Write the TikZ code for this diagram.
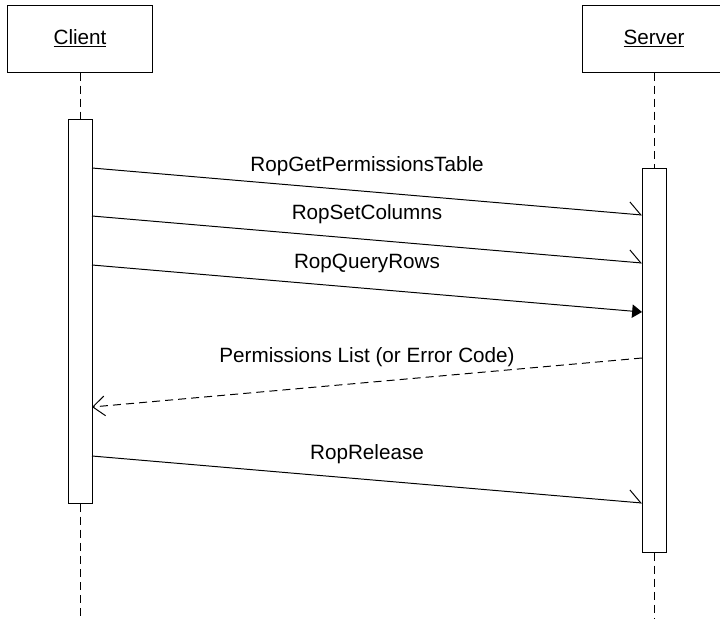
\documentclass[tikz,border=0pt]{standalone}
\usepackage{fontspec}
\setmainfont{Liberation Sans}
\usepackage{tikz}
\usetikzlibrary{arrows.meta}

\tikzset{
	lifebox/.style={draw, line width=0.7pt, minimum width=3.6cm, minimum height=1.675cm, inner sep=0pt},
	actbox/.style={draw, fill=white, line width=0.7pt, minimum width=0.6cm, minimum height=9.575cm, inner sep=0pt},
	lifeline/.style={line width=0.7pt, dash pattern=on 5.7pt off 3.6pt},
	msg/.style={line width=0.7pt, -{Straight Barb[left, length=8.5pt, width=17pt]}},
	syncmsg/.style={line width=0.7pt, -{Triangle[length=7pt, width=9.5pt]}},
	replymsg/.style={line width=0.7pt, dash pattern=on 5.7pt off 3.6pt, -{Straight Barb[length=8.5pt, width=14pt]}},
	msglabel/.style={midway, anchor=base, yshift=14.5pt, inner sep=0pt}
}

\begin{document}
\begin{tikzpicture}[x=0.025cm, y=-0.025cm, font=\fontsize{14.7}{17.6}\selectfont]
			%%%%% START %%%%%
			\useasboundingbox (0, 0) rectangle (720, 619);
			
			\node[lifebox] (client) at (80, 38.5) {\underline{Client}};
			\node[lifebox] (server) at (654, 38.5) {\underline{Server}};
			
			\node[actbox] (clientact) at (80, 311.5) {};
			\node[actbox] (serveract) at (654, 360.5) {};
			
			\coordinate (clientend) at (80, 619);
			\coordinate (serverend) at (654, 619);
			
			\draw[lifeline] (client.south) -- (clientact.north);
			\draw[lifeline] (clientact.south) -- (clientend);
			\draw[lifeline] (server.south) -- (serveract.north);
			\draw[lifeline] (serveract.south) -- (serverend);
			
			% message ends on the activation bars
			\coordinate (c1) at (92, 168);
			\coordinate (s1) at (642, 215);
			\coordinate (c2) at (92, 216);
			\coordinate (s2) at (642, 263);
			\coordinate (c3) at (92, 265);
			\coordinate (s3) at (642, 312);
			\coordinate (s4) at (642, 358);
			\coordinate (c4) at (92, 407);
			\coordinate (c5) at (92, 456);
			\coordinate (s5) at (642, 503);
			
			\draw[msg] (c1) -- (s1) node[msglabel] {RopGetPermissionsTable};
			\draw[msg] (c2) -- (s2) node[msglabel] {RopSetColumns};
			\draw[syncmsg] (c3) -- (s3) node[msglabel] {RopQueryRows};
			\draw[replymsg] (s4) -- (c4) node[msglabel] {Permissions List (or Error Code)};
			\draw[msg] (c5) -- (s5) node[msglabel] {RopRelease};
			
			%%%%% END %%%%%
		\end{tikzpicture}
\end{document}
